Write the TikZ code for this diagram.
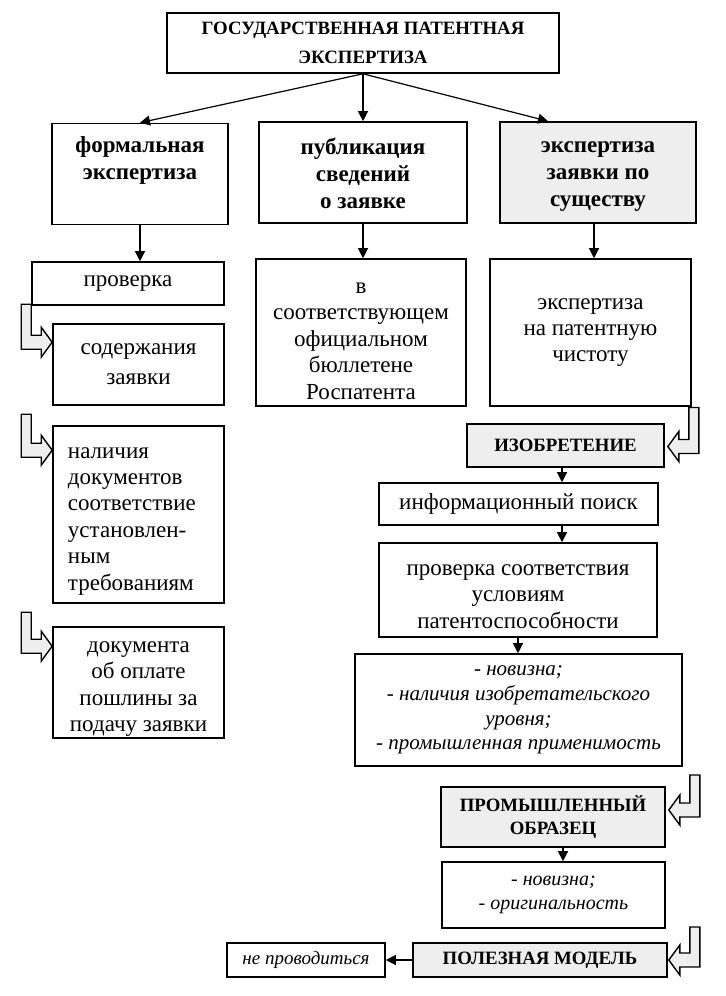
\documentclass[tikz,border=0pt]{standalone}
\usepackage{fontspec}
\setmainfont{Liberation Serif}
\usetikzlibrary{arrows.meta,calc}
\definecolor{boxgray}{RGB}{238,238,238}
\tikzset{
 box/.style={draw, line width=0.8pt, inner sep=2pt, align=center, font=\fontsize{11.5}{13.2}\selectfont},
 gbox/.style={box, fill=boxgray},
 head/.style={font=\fontsize{11.5}{13.5}\selectfont\bfseries},
 caps/.style={font=\fontsize{9.4}{14.5}\selectfont\bfseries},
 ital/.style={font=\fontsize{10}{12.2}\selectfont\itshape},
 arr/.style={line width=0.6pt, -{Triangle[length=5pt,width=5pt]}},
 blk/.style={draw, line width=0.7pt, fill=boxgray, line join=miter},
 plaintext/.style={align=center, inner sep=0pt, font=\fontsize{11.5}{13.2}\selectfont},
}
% block arrow pointing right: tip, stem height (px)
\newcommand\blockR[2]{%
 \draw[blk] (#1) -- ++(-11,-15) -- ++(0,8) -- ++(-10,0) -- ++(0,{7-#2}) -- ++(-10,0)
   -- ++(0,{#2+7}) -- ++(20,0) -- ++(0,8) -- cycle;}
% block arrow pointing left
\newcommand\blockL[2]{%
 \draw[blk] (#1) -- ++(11,-15) -- ++(0,8) -- ++(10,0) -- ++(0,{7-#2}) -- ++(10,0)
   -- ++(0,{#2+7}) -- ++(-20,0) -- ++(0,8) -- cycle;}
\begin{document}
\begin{tikzpicture}[x=0.5pt,y=-0.5pt]
\useasboundingbox (0,0) rectangle (726,996);
% top
\node[box, caps, minimum width=196pt, minimum height=30pt] (top) at (363,43)
  {ГОСУДАРСТВЕННАЯ ПАТЕНТНАЯ\\ЭКСПЕРТИЗА};
% row 1
\node[box, head, minimum width=88pt, minimum height=50.5pt] (A) at (140,174)
  {\strut формальная\\экспертиза\\\strut};
\node[box, head, minimum width=104pt, minimum height=50.5pt] (B) at (363,172.5)
  {\strut публикация\\сведений\\о заявке};
\node[gbox, head, minimum width=98pt, minimum height=50.5pt] (C) at (598,172.5)
  {\strut экспертиза\\заявки по\\существу};
% left column
\node[box, minimum width=96pt, minimum height=21.5pt] (prov) at (128,283.5) {проверка};
\node[box, font=\fontsize{11.5}{15}\selectfont, minimum width=85.5pt, minimum height=40.5pt] (sod) at (138.5,364.5)
  {содержания\\заявки};
\node[box, align=left, text width=70.5pt, inner xsep=7.5pt, minimum height=88.5pt] (nal) at (138.5,514.5)
  {\rule{0pt}{12pt}наличия\\документов\\соответствие\\установлен-\\ным\\требованиям};
\node[box, minimum width=85.5pt, minimum height=55.5pt] (dok) at (138.5,682.5) {};
\node[plaintext] (doktxt) at (138.5,689)
  {документа\\об оплате\\пошлины за\\подачу заявки};
% middle column
\node[box, minimum width=105pt, minimum height=73.5pt] (B2) at (361,332.5)
  {\rule{0pt}{14pt}в\\соответствующем\\официальном\\бюллетене\\Роспатента};
% right column
\node[box, minimum width=100.5pt, minimum height=73.5pt] (C2) at (590.5,332.5)
  {экспертиза\\на патентную\\чистоту};
\node[gbox, caps, minimum width=98.5pt, minimum height=21.5pt] (izobr) at (565.5,445.5) {ИЗОБРЕТЕНИЕ};
\node[box, minimum width=139.5pt, minimum height=21pt] (info) at (518.5,504) {информационный поиск};
\node[box, minimum width=139pt, minimum height=47pt] (check) at (518,590)
  {\rule{0pt}{12pt}проверка соответствия\\условиям\\патентоспособности};
\node[box, font=\fontsize{10.5}{12.3}\selectfont\itshape, minimum width=163.5pt, minimum height=56pt] (list) at (518.5,710)
  {- новизна;\\- наличия изобретательского\\уровня;\\- промышленная применимость};
\node[gbox, font=\fontsize{9.4}{11.5}\selectfont\bfseries, minimum width=112pt, minimum height=30pt] (prom) at (553,817)
  {ПРОМЫШЛЕННЫЙ\\ОБРАЗЕЦ};
\node[box, ital, minimum width=111.5pt, minimum height=33pt] (nov) at (553.5,895)
  {- новизна;\\- оригинальность};
\node[gbox, caps, minimum width=127pt, minimum height=17pt] (polez) at (540,960) {ПОЛЕЗНАЯ МОДЕЛЬ};
\node[box, font=\fontsize{9.5}{11}\selectfont\itshape, minimum width=79pt, minimum height=17pt] (nepr) at (306,960)
  {не проводиться};
% connectors
\draw[arr] (top.south) -- (A.north);
\draw[arr] (top.south) -- (B.north);
\draw[arr] (top.south) -- ([xshift=-25pt]C.north);
\draw[arr] (A.south) -- (A.south |- prov.north);
\draw[arr] (B.south) -- (B.south |- B2.north);
\coordinate (cx) at ([xshift=-2pt]C.south);
\draw[arr] (cx) -- (cx |- C2.north);
\coordinate (ix) at ([xshift=-1.75pt]izobr.south);
\draw[arr] (ix) -- (ix |- info.north);
\draw[arr] (ix |- info.south) -- (ix |- check.north);
\draw[arr] (check.south) -- (check.south |- list.north);
\coordinate (px) at ([xshift=5pt]prom.south);
\draw[arr] (px) -- (px |- nov.north);
\draw[arr] (polez.west) -- (nepr.east);
% block arrows
\coordinate (t1) at ($(sod.north west)+(0,19)$);
\coordinate (t2) at ($(nal.north west)+(0,25)$);
\coordinate (t3) at ($(dok.north west)+(0,20)$);
\blockR{t1}{38}
\blockR{t2}{36}
\blockR{t3}{34}
\coordinate (r1) at ($(izobr.east)+(3,1)$);
\coordinate (r2) at ($(prom.east)+(3,-7)$);
\coordinate (r3) at ($(polez.east)+(1,0)$);
\blockL{r1}{39}
\blockL{r2}{35}
\blockL{r3}{33}
\end{tikzpicture}
\end{document}
